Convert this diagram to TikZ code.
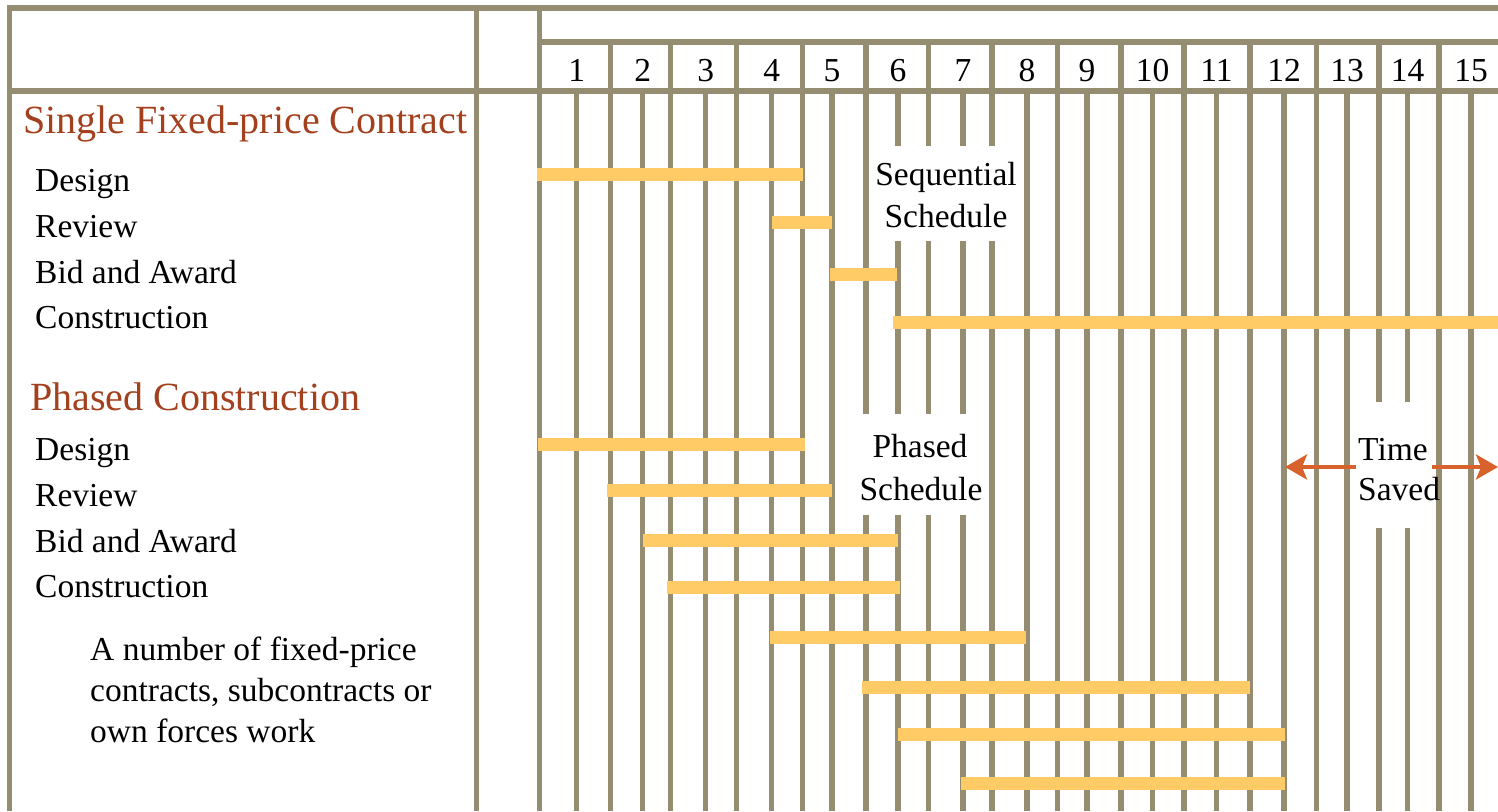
\documentclass[tikz,border=0pt]{standalone}
\usepackage{fontspec}
\setmainfont{Liberation Serif}
\usetikzlibrary{arrows.meta}
\definecolor{gridc}{RGB}{149,141,114}
\definecolor{barc}{RGB}{255,203,102}
\definecolor{headc}{RGB}{163,64,30}
\definecolor{arrc}{RGB}{216,98,44}

\begin{document}
\begin{tikzpicture}[x=1pt,y=-1pt,
  gridrule/.style={draw=gridc,line width=5.5pt},
  taskbar/.style={draw=barc,line width=13pt},
  gap/.style={fill=white},
  grouphead/.style={text=headc,font=\fontsize{40}{48}\selectfont,anchor=base west,inner sep=0pt},
  tasklabel/.style={font=\fontsize{33.5}{40}\selectfont,anchor=base west,inner sep=0pt},
  note/.style={font=\fontsize{33.5}{40}\selectfont,anchor=base,inner sep=0pt},
  daynum/.style={font=\fontsize{33.5}{40}\selectfont,anchor=base,inner sep=0pt},
  saved/.style={draw=arrc,line width=4pt,-{Stealth[length=22pt,width=25pt,inset=5pt]}}
]
\useasboundingbox (0,0) rectangle (1498,811);

% outer frame and header rules
\draw[gridrule,line join=miter] (9.7,811) -- (9.7,7.9) -- (1510,7.9);
\draw[gridrule] (7,91.2) -- (1510,91.2);
\draw[gridrule] (539.3,42.2) -- (1510,42.2);
\draw[gridrule] (476.7,5) -- (476.7,811);
\draw[gridrule] (539.3,5) -- (539.3,811);

% column dividers inside the header
\foreach \x in {610.7,670.7,736.7,802.7,866,928.5,992,1057.5,1121,1184,1250,1316.5,1379,1439}
  \draw[gridrule] (\x,42.2) -- (\x,91.2);

% time grid below the header: column borders and mid-lines
\foreach \x in {576.7,610.7,642.7,670.7,705.7,736.7,771.7,802.7,832,866,898,928.5,963,992,1027,
                1057.5,1087,1121,1152.5,1184,1216.5,1250,1284,1316.5,1347,1379,1407.5,1439,1471}
  \draw[gridrule] (\x,91.2) -- (\x,811);

% day numbers
\foreach \n/\x in {1/576.7,2/642.7,3/705.7,4/771.7,5/832,6/898,7/963,8/1027,9/1087,
                   10/1152.5,11/1216.5,12/1284,13/1347,14/1407.5,15/1471}
  \node[daynum] (day\n) at (\x,81) {\n};

% white gaps behind the schedule notes
\fill[gap] (878,146) rectangle (1012,241);
\fill[gap] (852,414) rectangle (983,515);
\fill[gap] (1365,402) rectangle (1422,528);

% sequential schedule bars
\draw[taskbar] (537,174) -- (803,174);
\draw[taskbar] (772,222) -- (832,222);
\draw[taskbar] (830,274.5) -- (897,274.5);
\draw[taskbar] (893,322) -- (1510,322);

% phased schedule bars
\draw[taskbar] (538,444) -- (805,444);
\draw[taskbar] (607,490) -- (832,490);
\draw[taskbar] (643,540) -- (898,540);
\draw[taskbar] (667,587) -- (900,587);
\draw[taskbar] (770,637) -- (1026,637);
\draw[taskbar] (862,687) -- (1250,687);
\draw[taskbar] (898,734) -- (1285,734);
\draw[taskbar] (961,783) -- (1285,783);

% row labels
\node[grouphead] (single) at (23,133) {Single Fixed-price Contract};
\node[tasklabel] (sdesign) at (35,191) {Design};
\node[tasklabel] (sreview) at (35,237) {Review};
\node[tasklabel] (sbid) at (35,283) {Bid and Award};
\node[tasklabel] (sbuild) at (35,328) {Construction};

\node[grouphead] (phased) at (30,410) {Phased Construction};
\node[tasklabel] (pdesign) at (35,460) {Design};
\node[tasklabel] (preview) at (35,506) {Review};
\node[tasklabel] (pbid) at (35,552) {Bid and Award};
\node[tasklabel] (pbuild) at (35,597) {Construction};

\node[tasklabel] (contractsA) at (90,660) {A number of fixed-price};
\node[tasklabel] (contractsB) at (90,701) {contracts, subcontracts or};
\node[tasklabel] (contractsC) at (90,742) {own forces work};

% schedule notes
\node[note] (seqA) at (946,185) {Sequential};
\node[note] (seqB) at (946,227) {Schedule};
\node[note] (phsA) at (920,457) {Phased};
\node[note] (phsB) at (921,500) {Schedule};
\node[tasklabel] (timeA) at (1358,460) {Time};
\node[tasklabel] (timeB) at (1358,500) {Saved};

% time saved arrows
\coordinate (tsLstart) at (1356,467);
\coordinate (tsLend) at (1285,467);
\coordinate (tsRstart) at (1432,467);
\coordinate (tsRend) at (1498,467);
\draw[saved] (tsLstart) -- (tsLend);
\draw[saved] (tsRstart) -- (tsRend);
\end{tikzpicture}
\end{document}
